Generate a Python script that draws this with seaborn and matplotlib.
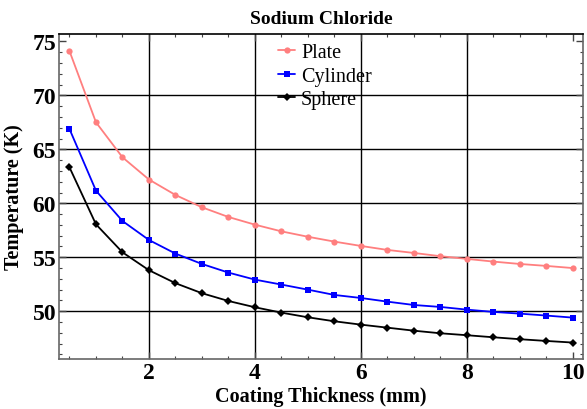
import numpy as np
import pandas as pd
import matplotlib
matplotlib.use("Agg")
import matplotlib.pyplot as plt
from matplotlib.ticker import MultipleLocator
import seaborn as sns

thickness = [0.5, 1.0, 1.5, 2.0, 2.5, 3.0, 3.5, 4.0, 4.5, 5.0,
             5.5, 6.0, 6.5, 7.0, 7.5, 8.0, 8.5, 9.0, 9.5, 10.0]
plate = [74.1, 67.5, 64.26, 62.2, 60.77, 59.63, 58.73, 58.02, 57.4, 56.9,
         56.45, 56.05, 55.68, 55.4, 55.1, 54.85, 54.6, 54.38, 54.2, 54.0]
cylinder = [66.88, 61.17, 58.36, 56.6, 55.34, 54.38, 53.58, 52.93, 52.47, 52.0,
            51.51, 51.23, 50.89, 50.58, 50.4, 50.15, 49.94, 49.78, 49.6, 49.41]
sphere = [63.33, 58.05, 55.46, 53.8, 52.6, 51.67, 50.95, 50.37, 49.87, 49.44,
          49.07, 48.76, 48.48, 48.2, 47.96, 47.78, 47.59, 47.41, 47.25, 47.1]
series_names = ["Plate", "Cylinder", "Sphere"]

df = pd.DataFrame({
    "Coating Thickness (mm)": thickness * 3,
    "Temperature (K)": plate + cylinder + sphere,
    "Shape": [n for n in series_names for _ in thickness],
})

sns.set_style("ticks")
plt.rcParams["font.family"] = ["Liberation Serif", "DejaVu Serif"]
plt.rcParams["text.color"] = "black"
plt.rcParams["axes.labelcolor"] = "black"
plt.rcParams["xtick.color"] = "#444444"
plt.rcParams["ytick.color"] = "#444444"
plt.rcParams["xtick.labelcolor"] = "black"
plt.rcParams["ytick.labelcolor"] = "black"

fig = plt.figure(figsize=(5.87, 4.10), dpi=100)
ax = fig.add_axes([0.1005, 0.122, 0.8927, 0.7926])

palette = {"Plate": "#FF7F7F", "Cylinder": "#0000FF", "Sphere": "#000000"}
markers = {"Plate": "o", "Cylinder": "s", "Sphere": "D"}
sns.lineplot(data=df, x="Coating Thickness (mm)", y="Temperature (K)",
             hue="Shape", style="Shape", palette=palette, markers=markers,
             dashes=False, markersize=4.5, markeredgewidth=0, linewidth=1.3,
             ax=ax)

for gx in [2, 4, 6, 8]:
    ax.axvline(gx, color="black", lw=1.0, zorder=0)
for gy in [50, 55, 60, 65, 70]:
    ax.axhline(gy, color="black", lw=1.0, zorder=0)

ax.set_xlim(0.302, 10.19)
ax.set_ylim(45.58, 75.68)
ax.xaxis.set_major_locator(MultipleLocator(2))
ax.xaxis.set_minor_locator(MultipleLocator(0.5))
ax.yaxis.set_major_locator(MultipleLocator(5))
ax.yaxis.set_minor_locator(MultipleLocator(1))
ax.tick_params(which="both", direction="in", top=True, right=True)
ax.tick_params(which="major", length=5, width=1, labelsize=17, pad=2)
ax.tick_params(which="minor", length=2.5, width=0.8)
for lab in ax.get_xticklabels() + ax.get_yticklabels():
    lab.set_fontweight("bold")

for s in ["left", "bottom", "right"]:
    ax.spines[s].set_color("#666666")
    ax.spines[s].set_linewidth(1.2)
ax.spines["top"].set_color("black")
ax.spines["top"].set_linewidth(1.2)

ax.set_xlabel("Coating Thickness (mm)", fontsize=14.5, fontweight="bold", labelpad=2)
ax.set_ylabel("Temperature (K)", fontsize=14.5, fontweight="bold", labelpad=6)
ax.set_title("Sodium Chloride", fontsize=14, fontweight="bold", pad=8)

leg = ax.legend(loc="upper left", bbox_to_anchor=(0.414, 0.978), frameon=False,
                fontsize=14.5, handlelength=0.85, handletextpad=0.3,
                labelspacing=0.22, borderaxespad=0, borderpad=0.1)
for h in leg.legend_handles:
    h.set_markersize(4.5)
for t in leg.get_texts():
    t.set_color("black")

fig.savefig("out.png", dpi=100)
